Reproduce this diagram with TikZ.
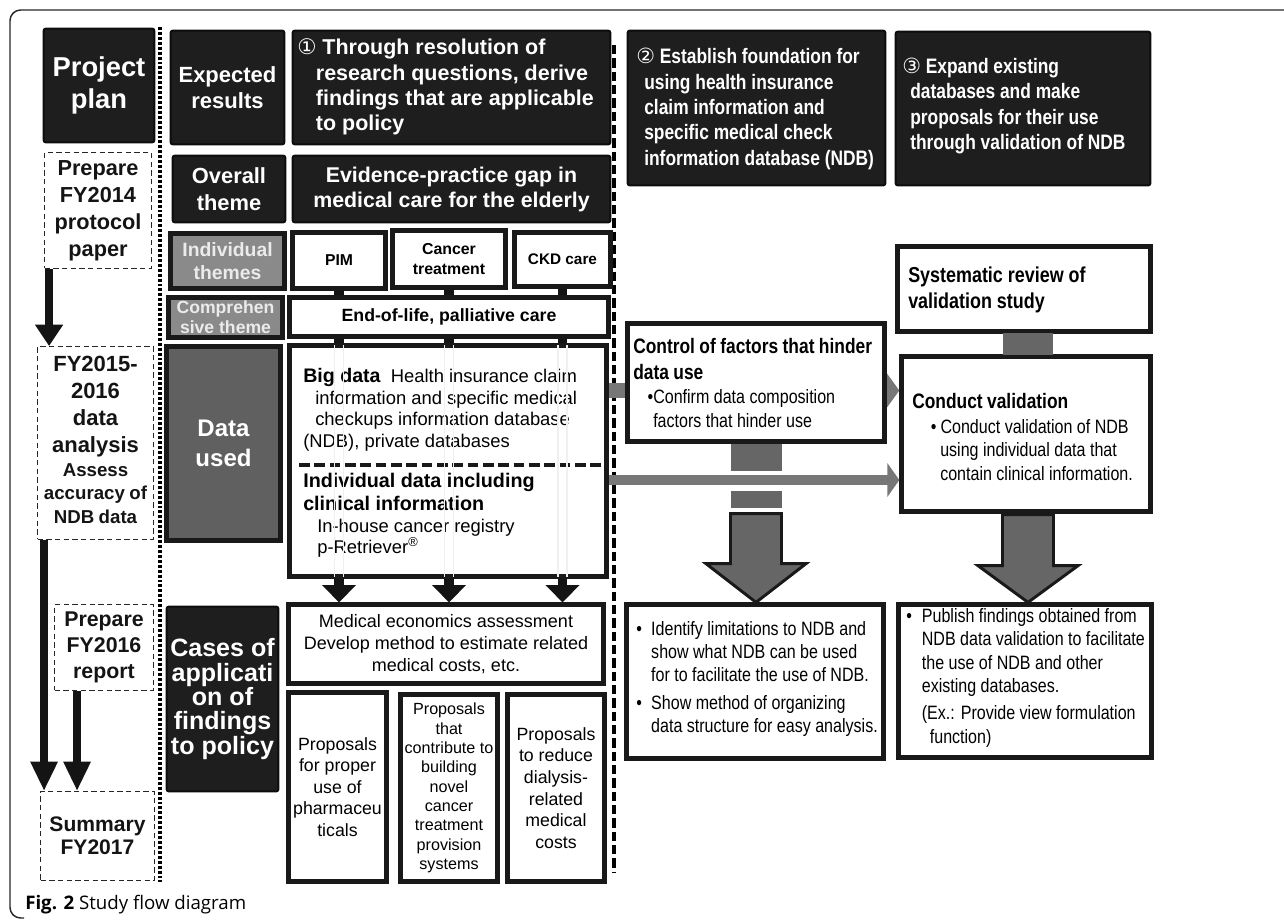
\documentclass[tikz,border=0pt]{standalone}
\usepackage{fontspec}
\setmainfont{Liberation Sans}
\newfontfamily\nar{Liberation Sans}[FakeStretch=0.83]
\newfontfamily\dvs{DejaVu Sans}
\newfontfamily\opens{Open Sans}
\usetikzlibrary{arrows.meta,calc}
\pgfdeclarelayer{bg}
\pgfsetlayers{bg,main}
\newcommand\fs[2]{\fontsize{#1}{#2}\selectfont}
\newcommand\placebox[7]{\node[#6, minimum width={(#4-#2)*0.75pt-2.5pt}, minimum height={(#5-#3)*0.75pt-2.5pt}] (#1) at ({(#2+#4)/2},{(#3+#5)/2}) {#7};}
\newcommand\blkarr[3]{\draw[blockarrow] ($(#1)+(-25.5,0)$) -- ($(#1)+(25.5,0)$) -- ($(#1)+(25.5,#2)$) -- ($(#1)+(50,#2)$) -- (#3) -- ($(#1)+(-50,#2)$) -- ($(#1)+(-25.5,#2)$) -- cycle;}
\definecolor{boxblack}{HTML}{1E1E1E}
\definecolor{darkgray}{HTML}{606060}
\definecolor{midgray}{HTML}{8A8A8A}
\definecolor{arrgray}{HTML}{777777}
\definecolor{blkgray}{HTML}{666666}
\tikzset{
  blackbox/.style={draw=black!95, fill=boxblack, line width=1.5pt, rounded corners=1.5pt, text=white, font=\bfseries, align=center, inner sep=0pt},
  whitebox/.style={draw=black!90, fill=white, line width=3.5pt, align=center, inner sep=0pt},
  graybox/.style={draw=black!90, fill=midgray, line width=3.5pt, text=black!8, font=\bfseries, align=center, inner sep=0pt},
  darkbox/.style={draw=black!90, fill=darkgray, line width=3.5pt, text=white, font=\bfseries, align=center, inner sep=0pt},
  dashbox/.style={draw=black!85, dash pattern=on 4pt off 2.5pt, line width=0.9pt, font=\bfseries, align=center, inner sep=0pt, text=black!92},
  txt/.style={inner sep=0pt, align=left, anchor=west},
  blackarrow/.style={draw=black!92, line width=6pt},
  grayarrow/.style={draw=arrgray},
  blockarrow/.style={fill=blkgray, draw=black!90, line width=2.2pt, line join=miter},
}
\begin{document}
\begin{tikzpicture}[x=0.75pt,y=-0.75pt]
\useasboundingbox (0,0) rectangle (1284,921);
% frame
\draw[black!85, line width=1.1pt, rounded corners=8pt] (1290,10) -- (10,10) -- (10,918) -- (24,918);

% ---- left column
\placebox{pp}{42}{27}{156}{144}{blackbox,font=\bfseries\fs{20.5}{24}}{Project\\plan}
\placebox{p14}{43}{151}{153}{270}{dashbox,font=\bfseries\fs{16.3}{20.3}}{Prepare\\FY2014\\protocol\\paper}
\placebox{fy15}{36}{345}{155}{541}{dashbox,text width=86pt}{{\fs{16.5}{20.3}FY2015-\\2016\\data\\analysis\par}{\fs{14}{17.6}Assess\\accuracy of\\NDB data\par}\vspace*{5pt}}
\placebox{p16}{53}{603}{155}{692}{dashbox,font=\bfseries\fs{16}{19.5}}{Prepare\\FY2016\\report}
\placebox{sum}{39}{790}{156}{882}{dashbox,font=\bfseries\fs{15.8}{17.5}}{Summary\\FY2017}

% ---- second column
\placebox{er}{169}{29}{286}{146}{blackbox,font=\bfseries\fs{16.5}{20}}{Expected\\results}
\placebox{ot}{171}{154}{287}{224}{blackbox,font=\bfseries\fs{16.4}{20}}{Overall\\theme}
\placebox{it}{169}{232}{286}{290}{graybox,font=\bfseries\fs{14.5}{17.5}}{Individual\\themes}
\placebox{ct}{167}{296}{284}{339}{graybox,font=\bfseries\fs{13.2}{15}}{Comprehen\\sive theme}
\placebox{du}{165}{345}{282}{542}{darkbox,font=\bfseries\fs{18}{22.5}}{Data\\used}
\placebox{ca}{165}{605}{280}{793}{blackbox,font=\bfseries\fs{18.8}{18.3}}{Cases of\\applicati\\on of\\findings\\to policy}

% ---- third column
\placebox{rq}{291}{29}{612}{146}{blackbox}{}
\node[txt, text=white, font=\bfseries\fs{16.1}{19}] (rqt) at (297,87) {{\dvs\mdseries ①} Through resolution of\\\hspace*{14pt}research questions, derive\\\hspace*{14pt}findings that are applicable\\\hspace*{14pt}to policy};
\placebox{eg}{291}{154}{612}{224}{blackbox,font=\bfseries\fs{16}{18.75}}{Evidence-practice gap in\\medical care for the elderly}
\placebox{pim}{291}{231}{387}{290}{whitebox,font=\bfseries\fs{11.8}{15}}{PIM}
\placebox{can}{391}{229}{507}{289}{whitebox,font=\bfseries\fs{11.9}{15}}{Cancer\\treatment}
\placebox{ckd}{513}{231}{612}{288}{whitebox,font=\bfseries\fs{11.5}{15}}{CKD care}
\placebox{eol}{288}{296}{610}{338}{whitebox,font=\bfseries\fs{13.3}{16}}{End-of-life, palliative care}
\placebox{bd}{288}{344}{608}{578}{whitebox}{}
\placebox{me}{287}{603}{605}{685}{whitebox,font=\fs{13.5}{16.3}}{Medical economics assessment\\Develop method to estimate related\\medical costs, etc.}
\placebox{pr1}{287}{691}{388}{883}{whitebox,font=\fs{13.3}{16.1}}{Proposals\\for proper\\use of\\pharmaceu\\ticals}
\placebox{pr2}{399}{693}{499}{883}{whitebox,font=\fs{12.1}{14.5}}{Proposals\\that\\contribute to\\building\\novel\\cancer\\treatment\\provision\\systems}
\placebox{pr3}{506}{693}{606}{883}{whitebox,font=\fs{13.3}{16.2}}{Proposals\\to reduce\\dialysis-\\related\\medical\\costs}

% ---- right part
\placebox{r2}{626}{29}{887}{187}{blackbox}{}
\node[txt, text=white, font=\nar\bfseries\fs{15.7}{19}] (r2t) at (636,109) {{\dvs\mdseries ②} Establish foundation for\\\hspace*{6pt}using health insurance\\\hspace*{6pt}claim information and\\\hspace*{6pt}specific medical check\\\hspace*{6pt}information database (NDB)};
\placebox{r3}{894}{30}{1152}{187}{blackbox}{}
\node[txt, text=white, font=\nar\bfseries\fs{15.7}{19}] (r3t) at (902,106) {{\dvs\mdseries ③} Expand existing\\\hspace*{6pt}databases and make\\\hspace*{6pt}proposals for their use\\\hspace*{6pt}through validation of NDB};
\placebox{sr}{896}{245}{1152}{333}{whitebox}{}
\node[txt, font=\nar\bfseries\fs{16.2}{20}] (srt) at (908,290) {Systematic review of\\validation study};

% separators and connectors behind
\begin{pgfonlayer}{bg}
\draw[black, line width=3pt, dash pattern=on 7pt off 3pt] (614,45) -- (614,872);
\draw[black, line width=2.3pt, dash pattern=on 2.2pt off 1.5pt] (160,27) -- (160,882);
\end{pgfonlayer}

\placebox{ctrl}{626}{322}{886}{443}{whitebox}{}
\node[txt, text width=190pt] (ctrlt) at (633,383) {{\nar\bfseries\fs{15.7}{19}Control of factors that hinder\\data use\par}\vspace{1pt}{\nar\fs{14.5}{17.5}\hspace*{15pt}\llap{•}Confirm data composition\\\hspace*{15pt}factors that hinder use\par}};
\placebox{cv}{900}{355}{1152}{513}{whitebox}{}
\node[txt, text width=185pt] (cvt) at (912,437) {{\nar\bfseries\fs{15.7}{19}Conduct validation\par}\vspace{1pt}{\nar\fs{14.5}{17.5}\hspace*{14pt}•\hspace*{3pt}Conduct validation of NDB\\\hspace*{21pt}using individual data that\\\hspace*{21pt}contain clinical information.\par}};
\placebox{idn}{625}{603}{885}{760}{whitebox}{}
\node[txt, font=\nar\fs{14.5}{17.5}] (idnt) at (636,679) {\begin{tabular}{@{}l@{\hspace{7pt}}l@{}}•&Identify limitations to NDB and\\&show what NDB can be used\\&for to facilitate the use of NDB.\\[3pt]•&Show method of organizing\\&data structure for easy analysis.\end{tabular}};
\placebox{pub}{897}{603}{1153}{759}{whitebox}{}
\node[txt, font=\nar\fs{14.5}{17.5}] (pubt) at (906,678) {\begin{tabular}{@{}l@{\hspace{7.5pt}}l@{}}•&Publish findings obtained from\\&NDB data validation to facilitate\\&the use of NDB and other\\&existing databases.\\[3pt]&(Ex.: Provide view formulation\\&\hspace*{6pt}function)\end{tabular}};

% gray connector Big data -> control -> conduct validation (behind control box)
\coordinate (g1y) at ($(ctrl.west)+(0,8)$);
\coordinate (g2y) at ($(bd.east)+(0,19)$);
\begin{pgfonlayer}{bg}
\draw[grayarrow, line width=11pt, -{Triangle[width=27pt,length=10pt]}] (bd.east |- g1y) -- (cv.west |- g1y);
\end{pgfonlayer}

% Big data text
\node[txt, anchor=north west, font=\fs{13.8}{16.3}] (bdt1) at (303,368) {{\bfseries\fs{14.7}{16.3}Big data}\ \ Health insurance claim\\\hspace*{9pt}information and specific medical\\\hspace*{9pt}checkups information database\\(NDB), private databases};
\node[txt, anchor=north west, font=\bfseries\fs{14.8}{17.3}] (bdt2) at (303,472.5) {Individual data including\\clinical information};
\node[txt, anchor=north west, font=\fs{13.8}{16}] (bdt3) at (317,518.5) {In-house cancer registry\\p-Retriever\textsuperscript{®}};
\draw[black!90, line width=3.5pt, dash pattern=on 8pt off 3.5pt] (299,465) -- (bd.east |- 0,465);
% faint guide lines inside big data box
\foreach \n in {pim,can,ckd}{
  \draw[black!6, line width=0.8pt] ($(\n.south |- bd.north)+(-4.5,2)$) -- ($(\n.south |- bd.south)+(-4.5,-2)$);
  \draw[black!6, line width=0.8pt] ($(\n.south |- bd.north)+(4.5,2)$) -- ($(\n.south |- bd.south)+(4.5,-2)$);
}

% stubs themes -> end of life -> big data, big data -> medical economics
\foreach \n in {pim,can,ckd}{
  \draw[black!92, line width=7pt] (\n.south) -- (\n.south |- eol.north);
  \draw[black!92, line width=7pt] (\n.south |- eol.south) -- (\n.south |- bd.north);
  \draw[black!92, line width=7pt, -{Triangle[width=25pt,length=13pt]}] (\n.south |- bd.south) -- (\n.south |- me.north);
}

% left column arrows
\coordinate (a1) at ($(p14.south west)+(5,0)$);
\draw[blackarrow, -{Triangle[width=20pt,length=16pt]}] (a1) -- (a1 |- fy15.north);
\coordinate (a2) at ($(fy15.south west)+(7,0)$);
\draw[blackarrow, -{Triangle[width=19pt,length=22pt]}] (a2) -- (a2 |- sum.north);
\coordinate (a3) at ($(p16.south west)+(23,0)$);
\draw[blackarrow, -{Triangle[width=19pt,length=22pt]}] (a3) -- (a3 |- sum.north);

% gray band under control box with gap, then block arrow
\fill[blkgray] ($(ctrl.south)+(-25.5,0)$) rectangle ($(ctrl.south)+(25.5,27)$);
\fill[blkgray] ($(ctrl.south)+(-25.5,47)$) rectangle ($(ctrl.south)+(25.5,64)$);
\draw[grayarrow, line width=8pt, -{Triangle[width=25pt,length=9pt]}] (bd.east |- g2y) -- (cv.west |- g2y);
\coordinate (b1) at ($(ctrl.south)+(0,70)$);
\blkarr{b1}{50}{b1 |- idn.north}
\coordinate (b2) at ($(cv.south)+(2,1)$);
\blkarr{b2}{51}{b2 |- pub.north}
% band between systematic review and conduct validation
\coordinate (srb) at ($(sr.south)+(4,0)$);
\fill[blkgray] ($(srb)+(-25,-1)$) rectangle ($(srb |- cv.north)+(25,1)$);

% caption
\node[anchor=base west, inner sep=0pt, font=\opens\fs{14}{17}] (cap) at (25,909) {\textbf{Fig. 2} Study flow diagram};
\end{tikzpicture}
\end{document}
